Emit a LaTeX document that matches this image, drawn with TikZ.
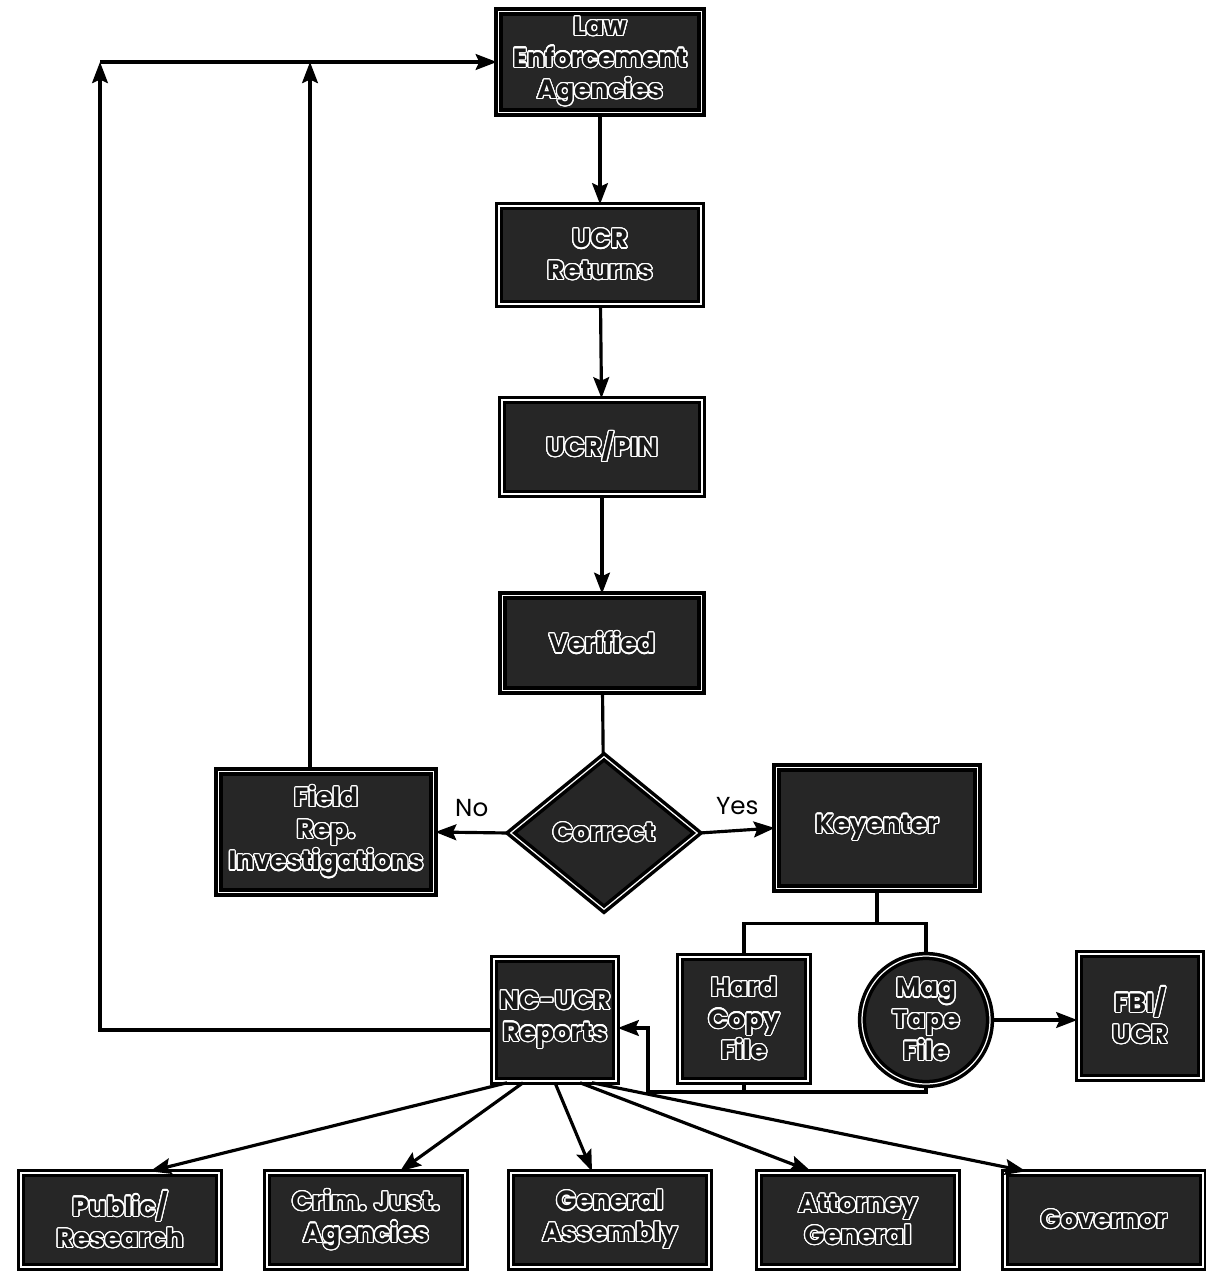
\documentclass[tikz,border=0pt]{standalone}
\usepackage{fontspec}
\setmainfont{Poppins}
\usepackage[copies]{contour}
\usetikzlibrary{shapes.geometric,arrows.meta,calc}
\contourlength{0.7pt}
\contournumber{24}
\newcommand{\hollow}[1]{\contour{white}{#1}}

\begin{document}
\begin{tikzpicture}[x=0.02cm,y=-0.02cm,
  box/.style={draw=black,line width=2pt,double=white,double distance=0.7pt,fill=black!85,text=black!90,align=center,inner sep=0pt,font=\fontsize{15}{18}\selectfont\bfseries},
  flow/.style={line width=1.8pt,-{Stealth[length=12pt,width=9pt,inset=2pt]}},
  link/.style={line width=1.8pt},
  lbl/.style={font=\fontsize{14}{16}\selectfont,above=5pt}]

\useasboundingbox (0,0) rectangle (1205,1271);

% main column
\node[box,minimum width=4.06cm,minimum height=2.02cm] (law) at (600,62) {\hollow{Law}\\\hollow{Enforcement}\\\hollow{Agencies}};
\node[box,minimum width=4.04cm,minimum height=1.96cm] (ret) at (600,255) {\hollow{UCR}\\\hollow{Returns}};
\node[box,minimum width=4.0cm,minimum height=1.88cm] (pin) at (602,447) {\hollow{UCR/PIN}};
\node[box,minimum width=3.98cm,minimum height=1.9cm] (ver) at (602,643) {\hollow{Verified}};
\node[box,diamond,minimum width=3.76cm,minimum height=3.08cm] (cor) at (604,833) {\hollow{Correct}};
\node[box,minimum width=4.3cm,minimum height=2.42cm] (fld) at (326,832) {\hollow{Field}\\\hollow{Rep.}\\\hollow{Investigations}};
\node[box,minimum width=4.02cm,minimum height=2.42cm] (key) at (877,828) {\hollow{Keyenter}};

% files and reports
\node[box,minimum width=2.56cm,minimum height=2.48cm] (hcf) at (744,1019) {\hollow{Hard}\\\hollow{Copy}\\\hollow{File}};
\node[box,circle,minimum size=2.56cm] (mag) at (926,1020) {\hollow{Mag}\\\hollow{Tape}\\\hollow{File}};
\node[box,minimum width=2.44cm,minimum height=2.48cm] (fbi) at (1140,1016) {\hollow{FBI/}\\\hollow{UCR}};
\node[box,minimum width=2.44cm,minimum height=2.44cm] (ncr) at (555,1020) {\hollow{NC-UCR}\\\hollow{Reports}};

% users
\node[box,minimum width=3.96cm,minimum height=1.88cm] (pub) at (120,1220) {\hollow{Public/}\\\hollow{Research}};
\node[box,minimum width=3.96cm,minimum height=1.88cm] (crim) at (366,1220) {\hollow{Crim. Just.}\\\hollow{Agencies}};
\node[box,minimum width=3.96cm,minimum height=1.88cm] (gen) at (610,1220) {\hollow{General}\\\hollow{Assembly}};
\node[box,minimum width=3.96cm,minimum height=1.88cm] (att) at (858,1220) {\hollow{Attorney}\\\hollow{General}};
\node[box,minimum width=3.96cm,minimum height=1.88cm] (gov) at (1104,1220) {\hollow{Governor}};

\coordinate (tl) at (100,62);

\draw[flow] (law) -- (ret);
\draw[flow] (ret) -- (pin);
\draw[flow] (pin) -- (ver);
\draw[link] (ver) -- (cor);
\draw[flow] (cor.west) -- node[lbl]{No} (fld.east);
\draw[flow] (cor.east) -- node[lbl]{Yes} (key.west);

% feedback to agencies
\draw[flow] (tl) -- (law.west);
\draw[flow] ($(fld.north)+(-16,0)$) coordinate (fu) -- (fu |- tl);
\draw[flow] ($(ncr.west)+(0,10)$) -| (tl);

% keyenter outputs
\draw[link] (key.south) -- ++(0,33);
\draw[link] (hcf.north) -- ++(0,-32) -| (mag.north);
\draw[flow] (mag.east) -- (mag.east -| fbi.west);
\coordinate (rt) at (648,1092);
\draw[flow] (mag.south) |- (rt) |- ($(ncr.east)+(0,8)$);
\draw[link] (hcf.south) -- (hcf.south |- rt);

% distribution
\draw[flow] ($(ncr.south)+(-48,0)$) -- ($(pub.north)+(30,0)$);
\draw[flow] ($(ncr.south)+(-32,0)$) -- ($(crim.north)+(34,0)$);
\draw[flow] (ncr.south) -- ($(gen.north)+(-18,0)$);
\draw[flow] ($(ncr.south)+(25,0)$) -- ($(att.north)+(-47,0)$);
\draw[flow] ($(ncr.south)+(37,0)$) -- ($(gov.north)+(-78,0)$);
\end{tikzpicture}
\end{document}
